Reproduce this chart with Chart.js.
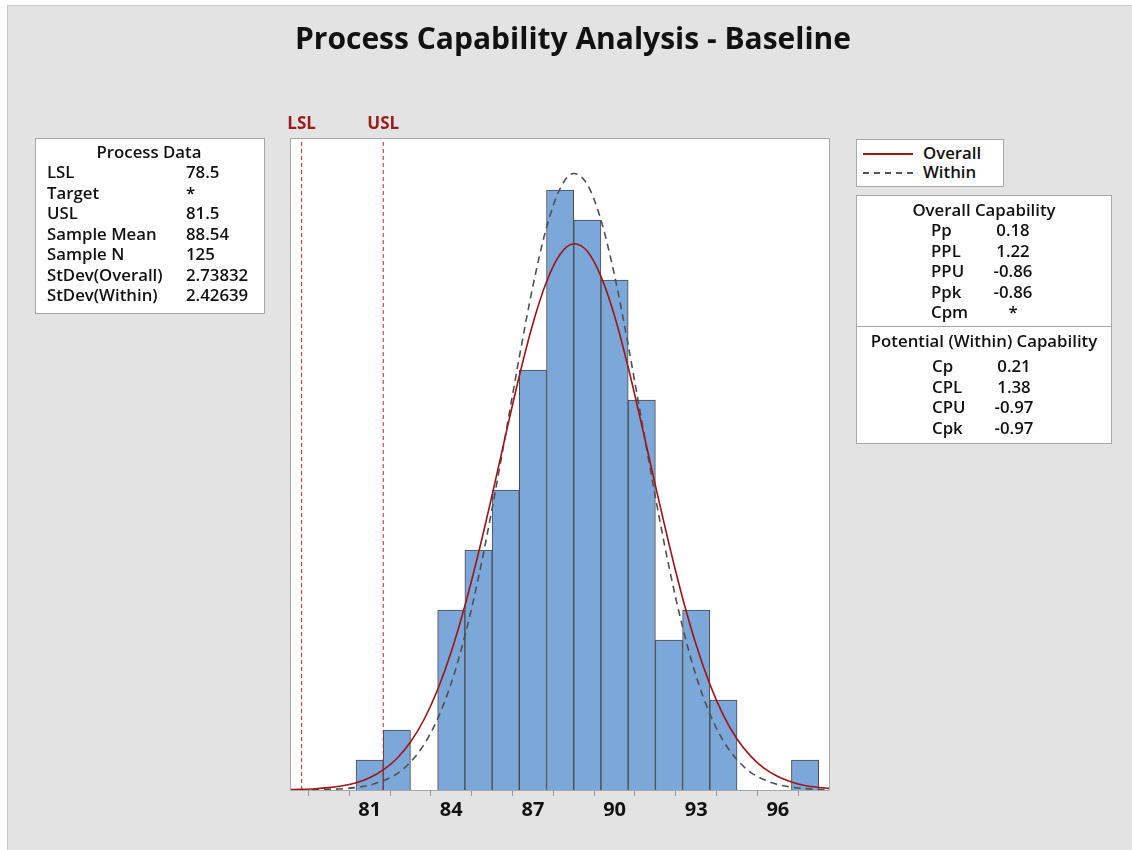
<!DOCTYPE html>
<html>
<head>
<meta charset="utf-8">
<script src="https://cdn.jsdelivr.net/npm/chart.js@4.4.1/dist/chart.umd.min.js"></script>
<style>
  body { margin: 0; background: #fff; font-family: "Open Sans", "Noto Sans", sans-serif; }
  #fondo { position: absolute; left: 7px; top: 5px; width: 1125px; height: 845px; background: #e3e3e3;
           border-left: 1px solid #c8c8c8; border-top: 1px solid #c8c8c8; }
  #grafico { position: absolute; left: 0; top: 0; }
  #titulo { position: absolute; left: 0; width: 1146px; top: 17px; text-align: center;
            font-weight: 700; font-size: 30px; color: #111; }
  .caja { position: absolute; background: #fff; border: 1px solid #a8a8a8; font-weight: 600;
          font-size: 16.8px; color: #111; }
  .fila { position: absolute; height: 20px; line-height: 20px; white-space: nowrap; }
</style>
</head>
<body>
<div id="fondo"></div>
<canvas id="grafico" width="1132" height="850"></canvas>
<div id="titulo">Process Capability Analysis - Baseline</div>
<div class="caja" id="datos" style="left:35px;top:138px;width:228px;height:174px"></div>
<div class="caja" id="leyenda" style="left:856px;top:139px;width:146px;height:46px"></div>
<div class="caja" id="capacidad" style="left:856px;top:195px;width:254px;height:247px"></div>

<script>
// Datos del histograma (conteo por clase de ancho 1)
var centrosClase = [81, 82, 83, 84, 85, 86, 87, 88, 89, 90, 91, 92, 93, 94, 95, 96, 97];
var conteos = [1, 2, 0, 6, 8, 10, 14, 20, 19, 17, 13, 5, 6, 3, 0, 0, 1];

// Curvas ajustadas
var curvaX = [78, 78.5, 79, 79.5, 80, 80.5, 81, 81.5, 82, 82.5, 83, 83.5, 84, 84.5, 85, 85.5, 86, 86.5,
  87, 87.5, 88, 88.5, 89, 89.5, 90, 90.5, 91, 91.5, 92, 92.5, 93, 93.5, 94, 94.5, 95, 95.5, 96, 96.5,
  97, 97.5, 98];
var curvaOverall = [0.011, 0.022, 0.042, 0.078, 0.14, 0.24, 0.41, 0.67, 1.05, 1.60, 2.35, 3.35, 4.61,
  6.14, 7.90, 9.83, 11.84, 13.80, 15.55, 16.94, 17.86, 18.21, 17.96, 17.12, 15.80, 14.09, 12.16, 10.15,
  8.20, 6.40, 4.83, 3.53, 2.49, 1.70, 1.13, 0.72, 0.45, 0.27, 0.15, 0.086, 0.047];
var curvaWithin = [0.002, 0.004, 0.009, 0.020, 0.042, 0.085, 0.16, 0.31, 0.54, 0.93, 1.52, 2.38, 3.57,
  5.14, 7.09, 9.38, 11.88, 14.43, 16.80, 18.75, 20.05, 20.55, 20.18, 19.00, 17.15, 14.83, 12.29, 9.77,
  7.44, 5.43, 3.79, 2.54, 1.63, 1.01, 0.59, 0.34, 0.18, 0.095, 0.047, 0.022, 0.010];

// Limites de especificacion
var LSL = 78.5;
var USL = 81.5;

// Marcas del eje X
var marcasX = [79.5, 81, 82.5, 84, 85.5, 87, 88.5, 90, 91.5, 93, 94.5, 96, 97.5];
var etiquetasX = [81, 84, 87, 90, 93, 96];

// Tablas de texto
var datosEtiquetas = ["LSL", "Target", "USL", "Sample Mean", "Sample N", "StDev(Overall)", "StDev(Within)"];
var datosValores = ["78.5", "*", "81.5", "88.54", "125", "2.73832", "2.42639"];
var overallEtiquetas = ["Pp", "PPL", "PPU", "Ppk", "Cpm"];
var overallValores = ["0.18", "1.22", "-0.86", "-0.86", "*"];
var withinEtiquetas = ["Cp", "CPL", "CPU", "Cpk"];
var withinValores = ["0.21", "1.38", "-0.97", "-0.97"];

var yMax = 21.7;

function puntos(xs, ys) {
  return xs.map(function (x, i) { return { x: x, y: ys[i] }; });
}

/* Funcion para agregar una fila de texto a una caja */
function agregarFila(caja, texto, izq, centroY, alinear) {
  var d = document.createElement("div");
  d.className = "fila";
  d.textContent = texto;
  d.style.top = (centroY - 10) + "px";
  if (alinear === "centro") {
    d.style.left = (izq - 150) + "px";
    d.style.width = "300px";
    d.style.textAlign = "center";
  } else {
    d.style.left = izq + "px";
  }
  caja.appendChild(d);
}

function armarCajas() {
  var datos = document.getElementById("datos");
  agregarFila(datos, "Process Data", 113, 13, "centro");
  datosEtiquetas.forEach(function (t, i) {
    agregarFila(datos, t, 11, 33 + i * 20.5);
    agregarFila(datos, datosValores[i], 150, 33 + i * 20.5);
  });

  var ley = document.getElementById("leyenda");
  var l1 = document.createElement("div");
  l1.style.cssText = "position:absolute;left:6px;top:13px;width:50px;border-top:2px solid #a01414";
  ley.appendChild(l1);
  var l2 = document.createElement("div");
  l2.style.cssText = "position:absolute;left:6px;top:32px;width:50px;border-top:2px dashed #555";
  ley.appendChild(l2);
  agregarFila(ley, "Overall", 66, 13);
  agregarFila(ley, "Within", 66, 32);

  var cap = document.getElementById("capacidad");
  agregarFila(cap, "Overall Capability", 127, 14, "centro");
  overallEtiquetas.forEach(function (t, i) {
    agregarFila(cap, t, 74, 34 + i * 20.6);
    agregarFila(cap, overallValores[i], 156, 34 + i * 20.6, "centro");
  });
  var sep = document.createElement("div");
  sep.style.cssText = "position:absolute;left:0;top:130px;width:254px;border-top:1px solid #a8a8a8";
  cap.appendChild(sep);
  agregarFila(cap, "Potential (Within) Capability", 127, 145, "centro");
  withinEtiquetas.forEach(function (t, i) {
    agregarFila(cap, t, 75, 170 + i * 20.6);
    agregarFila(cap, withinValores[i], 157, 170 + i * 20.6, "centro");
  });
}

// Plugin para el fondo blanco del area de trazado y las etiquetas LSL/USL
var areaPlugin = {
  id: "areaPlugin",
  beforeDraw: function (chart) {
    var a = chart.chartArea, ctx = chart.ctx;
    ctx.save();
    ctx.fillStyle = "#ffffff";
    ctx.fillRect(a.left, a.top, a.right - a.left, a.bottom - a.top);
    ctx.restore();
  },
  afterDraw: function (chart) {
    var a = chart.chartArea, ctx = chart.ctx, x = chart.scales.x;
    ctx.save();
    ctx.strokeStyle = "#a8a8a8";
    ctx.lineWidth = 1;
    ctx.strokeRect(a.left - 0.5, a.top - 0.5, a.right - a.left + 1, a.bottom - a.top + 1);
    ctx.fillStyle = "#9b1b1b";
    ctx.font = "bold 17px 'Open Sans', 'Noto Sans', sans-serif";
    ctx.textAlign = "center";
    ctx.textBaseline = "middle";
    ctx.fillText("LSL", x.getPixelForValue(LSL), 124);
    ctx.fillText("USL", x.getPixelForValue(USL), 124);
    ctx.restore();
  }
};

(function () {
  armarCajas();
  var ctx = document.getElementById("grafico").getContext("2d");
  new Chart(ctx, {
    type: "bar",
    data: {
      datasets: [
        {
          type: "line",
          label: "Overall",
          data: puntos(curvaX, curvaOverall),
          borderColor: "#a01414",
          borderWidth: 1.6,
          pointRadius: 0,
          cubicInterpolationMode: "monotone",
          order: 1
        },
        {
          type: "line",
          label: "Within",
          data: puntos(curvaX, curvaWithin),
          borderColor: "#505050",
          borderWidth: 1.6,
          borderDash: [7, 5],
          pointRadius: 0,
          cubicInterpolationMode: "monotone",
          order: 1
        },
        {
          type: "line",
          label: "LSL",
          data: [{ x: LSL, y: 0 }, { x: LSL, y: yMax }],
          borderColor: "#c8202a",
          borderWidth: 1,
          borderDash: [4, 3],
          pointRadius: 0,
          order: 2
        },
        {
          type: "line",
          label: "USL",
          data: [{ x: USL, y: 0 }, { x: USL, y: yMax }],
          borderColor: "#c8202a",
          borderWidth: 1,
          borderDash: [4, 3],
          pointRadius: 0,
          order: 2
        },
        {
          type: "bar",
          label: "Conteo",
          data: puntos(centrosClase, conteos),
          backgroundColor: "#7ba7d9",
          borderColor: "#4a4a4a",
          borderWidth: 1,
          barPercentage: 1,
          categoryPercentage: 1,
          order: 5
        }
      ]
    },
    options: {
      responsive: false,
      animation: false,
      layout: { padding: { left: 291, right: 303, top: 139, bottom: 0 } },
      plugins: { legend: { display: false }, tooltip: { enabled: false }, title: { display: false } },
      scales: {
        x: {
          type: "linear",
          min: 78.11,
          max: 97.88,
          offset: false,
          afterBuildTicks: function (s) {
            s.ticks = marcasX.map(function (v) { return { value: v }; });
          },
          afterFit: function (s) { s.height = 60; },
          ticks: {
            autoSkip: false,
            maxRotation: 0,
            padding: 2,
            color: "#111",
            font: { family: "'Open Sans', 'Noto Sans', sans-serif", size: 20, weight: "bold" },
            callback: function (v) { return etiquetasX.indexOf(v) >= 0 ? String(v) : ""; }
          },
          grid: { drawOnChartArea: false, tickLength: 6, color: "#999" },
          border: { display: true, color: "#a8a8a8" }
        },
        y: {
          display: false,
          min: 0,
          max: yMax
        }
      }
    },
    plugins: [areaPlugin]
  });
})();
</script>
</body>
</html>
